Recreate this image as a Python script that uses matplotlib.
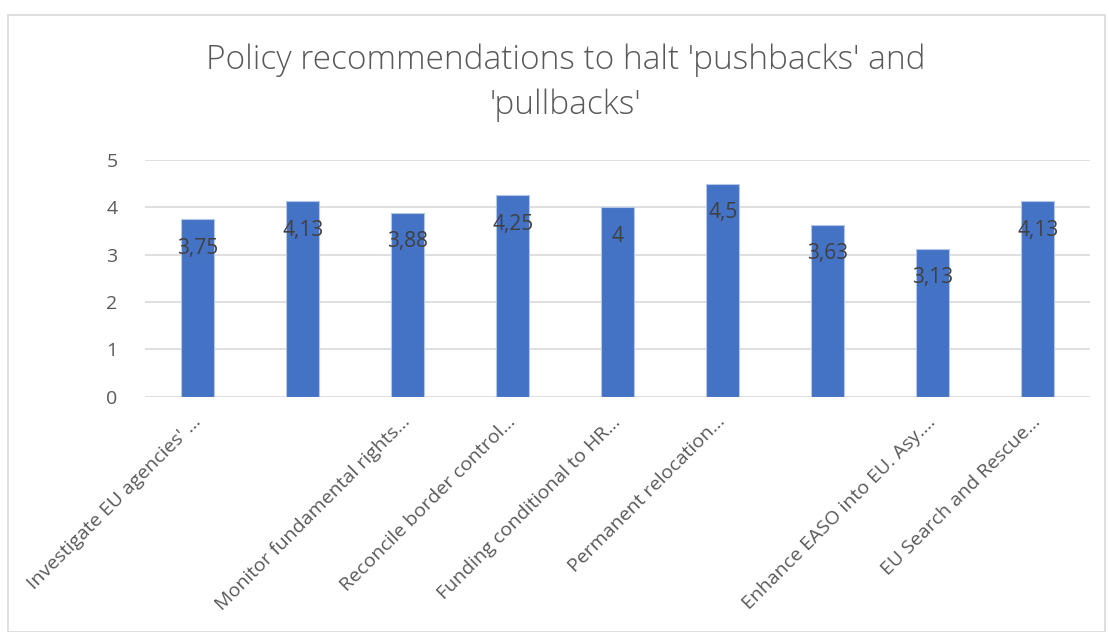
import matplotlib.pyplot as plt
import numpy as np
from matplotlib.patches import Rectangle

plt.rcParams['font.family'] = ['Open Sans', 'DejaVu Sans']

# data
categories = ["Investigate EU agencies' ...", "", "Monitor fundamental rights...",
              "Reconcile border control...", "Funding conditional to HR...",
              "Permanent relocation...", "", "Enhance EASO into EU. Asy....",
              "EU Search and Rescue..."]
scores = [3.75, 4.13, 3.88, 4.25, 4.0, 4.5, 3.63, 3.13, 4.13]
score_labels = ['3,75', '4,13', '3,88', '4,25', '4', '4,5', '3,63', '3,13', '4,13']

fig = plt.figure(figsize=(11.09, 6.32), dpi=100)
ax = fig.add_axes([0.131, 0.372, 0.852, 0.375])

# chart border
fig.patches.append(Rectangle((0.007, 0.0), 0.989, 0.976, transform=fig.transFigure,
                             fill=False, edgecolor='#D9D9D9', linewidth=1.2))

xvals = np.arange(len(scores))
bars = ax.bar(xvals, scores, width=0.31, color='#4472C4', edgecolor='#B4C7E7', linewidth=0.8, zorder=3)

for x, v, lab in zip(xvals, scores, score_labels):
    ax.annotate(lab, (x, v), xytext=(0, -29), textcoords='offset pixels',
                ha='center', va='center', fontsize=15, color='#404040', zorder=4)

ax.set_xlim(-0.5, len(scores) - 0.5)
ax.set_ylim(0, 5)
ax.set_yticks(range(6))
ax.yaxis.grid(True, color='#D9D9D9', linewidth=1.2, zorder=0)
[ax.spines[loc].set_visible(False) for loc in ['top', 'left', 'right', 'bottom']]
ax.tick_params(axis='both', length=0, labelsize=14, colors='#595959')
ax.tick_params(axis='y', pad=20)
ax.set_xticks(xvals)
ax.set_xticklabels(categories, rotation=45, ha='right', rotation_mode='anchor')
for t in ax.get_xticklabels():
    t.set_va('center')
ax.tick_params(axis='x', pad=16)

fig.text(0.51, 0.869, "Policy recommendations to halt 'pushbacks' and\n'pullbacks'",
         ha='center', va='center', fontsize=24, color='#595959', linespacing=1.45,
         fontweight='light')

fig.savefig('out.png', dpi=100)
